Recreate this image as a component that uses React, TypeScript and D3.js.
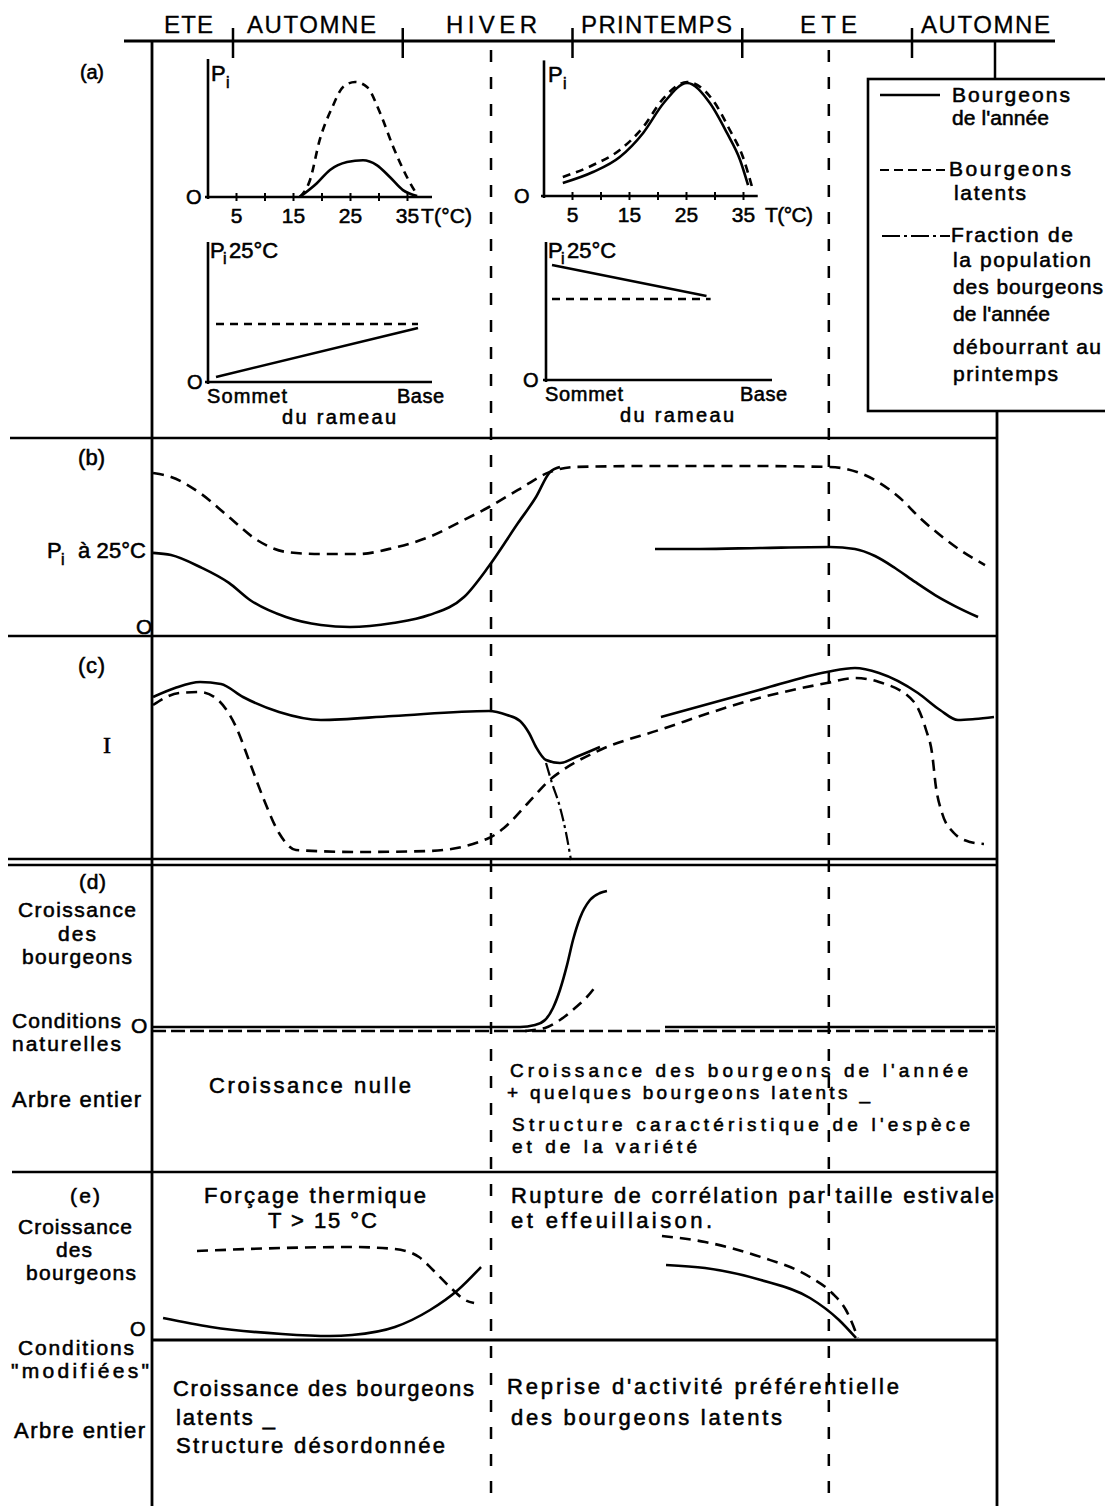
import React from "react";
import * as d3 from "d3";

type P = [number, number];

// ---------- time axis (season units: 1 = ETE|AUTOMNE, 2 = AUTOMNE|HIVER, ...)
const seasonBounds = [1, 2, 3, 4, 5];
const seasonNames = ["ETE", "AUTOMNE", "HIVER", "PRINTEMPS", "ETE", "AUTOMNE"];
const referenceDates = [2.52, 4.51];

// ---------- (a) insets : Pi vs temperature / position on shoot
const tempTicks = [5, 10, 15, 20, 25, 30, 35];
const tempTickLabels = [5, 15, 25, 35];
const a1Annee: P[] = [[16.1, 0], [19.1, 12], [21.4, 23.5], [24.4, 30.4], [27.2, 32], [29.6, 27.8], [31.9, 17.4], [34.2, 6], [36.7, 0.9]];
const a1Latent: P[] = [[16.1, 0], [17.9, 14.8], [19.6, 49.6], [21.8, 78], [23.7, 95.6], [25.8, 100], [27.9, 95.6], [30.2, 73], [32.5, 43.5], [34.9, 17.4], [36.7, 1.7]];
const a2Annee: P[] = [[3.3, 11.5], [8.6, 21.2], [13.3, 34.5], [17.4, 55.8], [21, 82.3], [25.1, 100], [29.1, 82.3], [32.1, 55.8], [34.4, 31.9], [35.8, 9.7]];
const a2Latent: P[] = [[3.3, 16.8], [8.6, 27.4], [13.3, 40.7], [17.4, 61], [21, 86.7], [25.1, 100.9], [29.6, 85], [32.6, 58.4], [34.9, 34.5], [36.5, 8]];
const a3Annee: P[] = [[0, 3.6], [1, 38.6]];
const a3Latent: P[] = [[0, 41.4], [1, 41.4]];
const a4Annee: P[] = [[0, 83.3], [0.75, 60.9]];
const a4Latent: P[] = [[0, 58.7], [0.77, 58.7]];

// ---------- (b) Pi at 25 °C through the year
const bLatent: P[] = [[0.529, 95.7], [0.635, 93.3], [0.806, 83.5], [0.976, 68.9], [1.141, 54.9], [1.312, 47.6], [1.518, 46.3], [1.73, 46.3], [1.943, 50], [2.155, 56.7], [2.361, 67.1], [2.508, 75], [2.679, 85.4], [2.867, 96.3], [3.015, 99.4], [3.457, 100], [4.046, 100], [4.517, 99.4], [4.694, 95.7], [4.811, 89.6], [4.929, 80.5], [5.047, 68.3], [5.165, 57.9], [5.283, 48.8], [5.43, 39.6]];
const bAnnee1: P[] = [[0.529, 47], [0.635, 45.7], [0.806, 38.4], [0.976, 28.7], [1.1, 18.3], [1.312, 7.9], [1.518, 3], [1.689, 1.8], [1.943, 4.3], [2.155, 9.1], [2.361, 20.1], [2.508, 39], [2.679, 65.2], [2.785, 81.1], [2.867, 96.3], [2.926, 99.4]];
const bAnnee2: P[] = [[3.486, 49.4], [3.751, 49.4], [4.105, 50], [4.517, 50.6], [4.664, 49.4], [4.782, 45.1], [4.9, 37.8], [5.018, 29.3], [5.136, 21.3], [5.253, 14.6], [5.389, 7.9]];

// ---------- (c) I
const cAnnee1: P[] = [[0.529, 81.5], [0.658, 86], [0.806, 89], [0.929, 88], [1.059, 81.5], [1.271, 74], [1.518, 70], [1.943, 72], [2.508, 74.5], [2.614, 72.5], [2.691, 69.5], [2.744, 63.5], [2.785, 56.5], [2.844, 50], [2.926, 48.5], [3.021, 51.5], [3.162, 56.5]];
const cAnnee2: P[] = [[3.521, 71.5], [4.099, 85], [4.499, 94], [4.664, 96], [4.806, 93.5], [5.035, 83.5], [5.165, 75], [5.271, 70], [5.371, 70.5], [5.483, 71.5]];
const cLatent: P[] = [[0.529, 77.5], [0.682, 83.5], [0.806, 84], [0.912, 80], [1.018, 66.5], [1.1, 48.5], [1.183, 30], [1.271, 13.5], [1.371, 5], [1.73, 4], [2.155, 4.5], [2.508, 11], [2.596, 16], [2.738, 28.5], [2.879, 41], [2.926, 44], [3.162, 55], [3.51, 65], [4.099, 81], [4.499, 88.5], [4.664, 91], [4.806, 89], [5.012, 79], [5.083, 65], [5.118, 53.5], [5.141, 36.5], [5.177, 23.5], [5.247, 13.5], [5.342, 9], [5.424, 8]];
const cFraction: P[] = [[2.844, 48.5], [2.879, 38.5], [2.926, 26.5], [2.962, 13.5], [2.991, 0]];

// ---------- (d) growth, natural conditions
const dAnnee: P[] = [[0.523, 0], [2.691, 0], [2.779, 1.5], [2.838, 5.1], [2.885, 13.9], [2.926, 27], [2.968, 45.3], [3.003, 63.5], [3.044, 79.6], [3.103, 92.7], [3.162, 97.8], [3.203, 99.3]];
const dAnneeLate: P[] = [[3.545, 0], [5.489, 0]];
const dLatentFlat: P[] = [[0.523, -2.9], [5.489, -2.9]];
const dLatentRise: P[] = [[2.72, -2.9], [2.838, -0.7], [2.926, 5.1], [3.015, 13.9], [3.085, 21.9], [3.138, 29.9]];

// ---------- (e) growth, modified conditions
const eLatent1: P[] = [[0.788, 89], [1.289, 92], [1.701, 93], [1.954, 91], [2.096, 83], [2.178, 70], [2.284, 52], [2.367, 40], [2.42, 37]];
const eAnnee1: P[] = [[0.588, 22], [0.87, 13], [1.289, 6], [1.571, 4], [1.701, 5], [1.954, 13], [2.161, 30], [2.325, 50], [2.461, 73]];
const eLatent2: P[] = [[3.527, 104], [3.781, 98], [4.11, 83], [4.399, 63], [4.529, 47], [4.611, 30], [4.682, 2]];
const eAnnee2: P[] = [[3.551, 75], [3.781, 72], [4.11, 60], [4.399, 42], [4.57, 20], [4.67, 2]];

// ---------- scales
const xT = d3.scaleLinear().domain([1, 5]).range([233, 912]);
const yB = d3.scaleLinear().domain([0, 100]).range([630, 466]);
const yC = d3.scaleLinear().domain([0, 100]).range([860, 660]);
const yD = d3.scaleLinear().domain([0, 100]).range([1027, 890]);
const yE = d3.scaleLinear().domain([0, 100]).range([1340, 1240]);
const a1x = d3.scaleLinear().domain([0, 39.3]).range([208, 432]);
const a1y = d3.scaleLinear().domain([0, 100]).range([197, 82]);
const a2x = d3.scaleLinear().domain([0, 39.3]).range([544, 768]);
const a2y = d3.scaleLinear().domain([0, 100]).range([196, 83]);
const a3x = d3.scaleLinear().domain([0, 1]).range([216, 418]);
const a3y = d3.scaleLinear().domain([0, 100]).range([382, 242]);
const a4x = d3.scaleLinear().domain([0, 1]).range([552, 758]);
const a4y = d3.scaleLinear().domain([0, 100]).range([380, 242]);

const FONT = "'Liberation Sans', Arial, sans-serif";
const SW = 2.6;
const DASH = "11 7";
const DASHDOT = "13 4 3 4";

type Sc = d3.ScaleLinear<number, number>;

function Curve({ data, xs, ys, dash, w = SW, linear = false }: { data: P[]; xs: Sc; ys: Sc; dash?: string; w?: number; linear?: boolean }) {
  const gen = d3
    .line<P>()
    .x((d) => xs(d[0]))
    .y((d) => ys(d[1]))
    .curve(linear ? d3.curveLinear : d3.curveMonotoneX);
  return <path d={gen(data) || ""} fill="none" stroke="#000" strokeWidth={w} strokeDasharray={dash} strokeLinecap="butt" />;
}

function Tx({ x, y, children, size = 22, len, anchor = "start", family = FONT, sw = 0.55 }: { x: number; y: number; children: React.ReactNode; size?: number; len?: number; anchor?: string; family?: string; sw?: number }) {
  return (
    <text
      x={x}
      y={y}
      fontSize={size}
      fontFamily={family}
      textAnchor={anchor as any}
      textLength={len}
      lengthAdjust="spacing"
      fill="#000"
      stroke="#000"
      strokeWidth={sw}
    >
      {children}
    </text>
  );
}

function Ln({ x1, y1, x2, y2, w = SW, dash }: { x1: number; y1: number; x2: number; y2: number; w?: number; dash?: string }) {
  return <line x1={x1} y1={y1} x2={x2} y2={y2} stroke="#000" strokeWidth={w} strokeDasharray={dash} />;
}

function TempInset({ xs, ys, annee, latent, zeroX, piX, tLabelX, tLabelLen, axisEnd }: { xs: Sc; ys: Sc; annee: P[]; latent: P[]; zeroX: number; piX: number; tLabelX: number; tLabelLen: number; axisEnd: number }) {
  const y0 = ys(0);
  return (
    <g>
      <Ln x1={xs(0)} y1={ys(120)} x2={xs(0)} y2={y0 + 2} />
      <Ln x1={xs(0) - 3} y1={y0} x2={xs(axisEnd)} y2={y0} />
      {tempTicks.map((t) => (
        <Ln key={t} x1={xs(t)} y1={y0 - 4} x2={xs(t)} y2={y0 + 4} w={2} />
      ))}
      {tempTickLabels.map((t) => (
        <Tx key={t} x={xs(t)} y={y0 + 26} size={21} anchor="middle">
          {t}
        </Tx>
      ))}
      <Tx x={tLabelX} y={y0 + 26} size={21} len={tLabelLen}>
        T(°C)
      </Tx>
      <Tx x={zeroX} y={y0 + 7} size={20}>
        O
      </Tx>
      <Tx x={piX} y={ys(120) + 22} size={22}>
        P
      </Tx>
      <Tx x={piX + 15} y={ys(120) + 29} size={16}>
        i
      </Tx>
      <Curve data={latent} xs={xs} ys={ys} dash="8 6" />
      <Curve data={annee} xs={xs} ys={ys} />
    </g>
  );
}

function PosInset({ xs, ys, annee, latent, axisX, axisEnd, zeroX, sommetLen, baseX, rameauX }: { xs: Sc; ys: Sc; annee: P[]; latent: P[]; axisX: number; axisEnd: number; zeroX: number; sommetLen: number; baseX: number; rameauX: number }) {
  const y0 = ys(0);
  return (
    <g>
      <Ln x1={axisX} y1={ys(100)} x2={axisX} y2={y0 + 2} />
      <Ln x1={axisX - 3} y1={y0} x2={axisEnd} y2={y0} />
      <Tx x={axisX + 2} y={ys(100) + 16} size={22}>
        P
      </Tx>
      <Tx x={axisX + 15} y={ys(100) + 22} size={16}>
        i
      </Tx>
      <Tx x={axisX + 21} y={ys(100) + 16} size={22}>
        25°C
      </Tx>
      <Tx x={zeroX} y={y0 + 7} size={20}>
        O
      </Tx>
      <Tx x={axisX - 1} y={y0 + 21} size={20} len={sommetLen}>
        Sommet
      </Tx>
      <Tx x={baseX} y={y0 + 21} size={20} len={47}>
        Base
      </Tx>
      <Tx x={rameauX} y={y0 + 42} size={20} len={114}>
        du rameau
      </Tx>
      <Curve data={latent} xs={xs} ys={ys} dash="8 6" linear />
      <Curve data={annee} xs={xs} ys={ys} linear />
    </g>
  );
}

export default function App() {
  const headerStarts = [164, 247, 446, 581, 800, 921];
  const headerLens = [49, 129, 91, 151, 57, 129];
  return (
    <svg width={1105} height={1506} style={{ position: "absolute", left: 0, top: 0, background: "#fff" }}>
      <rect x={0} y={0} width={1105} height={1506} fill="#fff" />

      {/* season header */}
      {seasonNames.map((s, i) => (
        <Tx key={i} x={headerStarts[i]} y={33} size={24} len={headerLens[i]} sw={0.3}>
          {s}
        </Tx>
      ))}
      <Ln x1={124} y1={41} x2={1055} y2={41} w={2.8} />
      {seasonBounds.map((b) => (
        <Ln key={b} x1={xT(b)} y1={28} x2={xT(b)} y2={58} w={2.5} />
      ))}
      <Ln x1={995} y1={41} x2={995} y2={79} w={2.5} />

      {/* main frame */}
      <Ln x1={152} y1={41} x2={152} y2={1506} w={2.8} />
      <Ln x1={997} y1={411} x2={997} y2={1506} w={2.8} />
      <Ln x1={10} y1={438} x2={997} y2={438} w={2.6} />
      <Ln x1={8} y1={636} x2={997} y2={636} w={2.6} />
      <Ln x1={8} y1={859} x2={997} y2={859} w={2.4} />
      <Ln x1={8} y1={865} x2={997} y2={865} w={2.4} />
      <Ln x1={12} y1={1172} x2={997} y2={1172} w={2.6} />
      <Ln x1={152} y1={1340} x2={997} y2={1340} w={3} />

      {/* reference dates */}
      {referenceDates.map((t) => (
        <Ln key={t} x1={xT(t)} y1={50} x2={xT(t)} y2={1506} w={2.5} dash="12 15" />
      ))}

      {/* (a) */}
      <Tx x={80} y={79} size={20} len={24}>
        (a)
      </Tx>
      <TempInset xs={a1x} ys={a1y} annee={a1Annee} latent={a1Latent} zeroX={186} piX={211} tLabelX={421} tLabelLen={51} axisEnd={39.3} />
      <TempInset xs={a2x} ys={a2y} annee={a2Annee} latent={a2Latent} zeroX={514} piX={548} tLabelX={765} tLabelLen={48} axisEnd={37.5} />
      <PosInset xs={a3x} ys={a3y} annee={a3Annee} latent={a3Latent} axisX={208} axisEnd={432} zeroX={187} sommetLen={80} baseX={397} rameauX={282} />
      <PosInset xs={a4x} ys={a4y} annee={a4Annee} latent={a4Latent} axisX={546} axisEnd={772} zeroX={523} sommetLen={78} baseX={740} rameauX={620} />

      {/* legend */}
      <rect x={868} y={79} width={260} height={332} fill="none" stroke="#000" strokeWidth={2.6} />
      <Ln x1={880} y1={95} x2={940} y2={95} w={2.4} />
      <Ln x1={880} y1={170} x2={948} y2={170} w={2.2} dash="9 5" />
      <Ln x1={882} y1={236} x2={950} y2={236} w={2.2} dash="18 4 3 4" />
      <Tx x={952} y={102} size={21} len={118}>Bourgeons</Tx>
      <Tx x={952} y={125} size={21} len={97}>de l'année</Tx>
      <Tx x={949} y={176} size={21} len={122}>Bourgeons</Tx>
      <Tx x={954} y={200} size={21} len={72}>latents</Tx>
      <Tx x={951} y={242} size={21} len={122}>Fraction de</Tx>
      <Tx x={953} y={267} size={21} len={138}>la population</Tx>
      <Tx x={953} y={294} size={21} len={150}>des bourgeons</Tx>
      <Tx x={953} y={321} size={21} len={97}>de l'année</Tx>
      <Tx x={953} y={354} size={21} len={148}>débourrant au</Tx>
      <Tx x={953} y={381} size={21} len={105}>printemps</Tx>

      {/* (b) */}
      <Tx x={78} y={465} len={27}>(b)</Tx>
      <Tx x={47} y={558} size={22}>P</Tx>
      <Tx x={61} y={565} size={16}>i</Tx>
      <Tx x={78} y={558} len={68}>à 25°C</Tx>
      <Tx x={136} y={634} size={21}>O</Tx>
      <Curve data={bLatent} xs={xT} ys={yB} dash={DASH} />
      <Curve data={bAnnee1} xs={xT} ys={yB} />
      <Curve data={bAnnee2} xs={xT} ys={yB} />

      {/* (c) */}
      <Tx x={78} y={673} len={27}>(c)</Tx>
      <Tx x={103} y={753} size={24} family="'Liberation Serif', 'DejaVu Serif', serif">I</Tx>
      <Curve data={cLatent} xs={xT} ys={yC} dash={DASH} />
      <Curve data={cAnnee1} xs={xT} ys={yC} />
      <Curve data={cAnnee2} xs={xT} ys={yC} />
      <Curve data={cFraction} xs={xT} ys={yC} dash={DASHDOT} w={2.2} />

      {/* (d) */}
      <Tx x={79} y={889} size={21} len={27}>(d)</Tx>
      <Tx x={77} y={917} size={21} anchor="middle" len={118}>Croissance</Tx>
      <Tx x={77} y={941} size={21} anchor="middle" len={38}>des</Tx>
      <Tx x={77} y={964} size={21} anchor="middle" len={110}>bourgeons</Tx>
      <Tx x={12} y={1028} size={21} len={109}>Conditions</Tx>
      <Tx x={131} y={1033} size={21}>O</Tx>
      <Tx x={12} y={1051} size={21} len={109}>naturelles</Tx>
      <Tx x={12} y={1107} size={22} len={129}>Arbre entier</Tx>
      <Tx x={209} y={1093} size={22} len={202}>Croissance nulle</Tx>
      <Tx x={510} y={1077} size={19} len={458}>Croissance des bourgeons de l'année</Tx>
      <Tx x={507} y={1099} size={19} len={363}>+ quelques bourgeons latents _</Tx>
      <Tx x={512} y={1131} size={19} len={458}>Structure caractéristique de l'espèce</Tx>
      <Tx x={512} y={1153} size={19} len={185}>et de la variété</Tx>
      <Curve data={dLatentFlat} xs={xT} ys={yD} dash="14 5" linear />
      <Curve data={dLatentRise} xs={xT} ys={yD} dash={DASH} />
      <Curve data={dAnnee} xs={xT} ys={yD} />
      <Curve data={dAnneeLate} xs={xT} ys={yD} linear />

      {/* (e) */}
      <Tx x={70} y={1203} size={21} len={30}>(e)</Tx>
      <Tx x={18} y={1234} size={21} len={114}>Croissance</Tx>
      <Tx x={56} y={1257} size={21} len={36}>des</Tx>
      <Tx x={26} y={1280} size={21} len={110}>bourgeons</Tx>
      <Tx x={130} y={1336} size={20}>O</Tx>
      <Tx x={18} y={1355} size={21} len={116}>Conditions</Tx>
      <Tx x={11} y={1378} size={21} len={138}>"modifiées"</Tx>
      <Tx x={14} y={1438} size={22} len={131}>Arbre entier</Tx>
      <Tx x={204} y={1203} len={222}>Forçage thermique</Tx>
      <Tx x={268} y={1228} len={109}>T &gt; 15 °C</Tx>
      <Tx x={511} y={1203} len={483}>Rupture de corrélation par taille estivale</Tx>
      <Tx x={511} y={1228} len={201}>et effeuillaison.</Tx>
      <Tx x={173} y={1396} len={301}>Croissance des bourgeons</Tx>
      <Tx x={176} y={1425} len={99}>latents _</Tx>
      <Tx x={176} y={1453} len={269}>Structure désordonnée</Tx>
      <Tx x={507} y={1394} len={392}>Reprise d'activité préférentielle</Tx>
      <Tx x={511} y={1425} len={271}>des bourgeons latents</Tx>
      <Curve data={eLatent1} xs={xT} ys={yE} dash={DASH} />
      <Curve data={eAnnee1} xs={xT} ys={yE} />
      <Curve data={eLatent2} xs={xT} ys={yE} dash={DASH} />
      <Curve data={eAnnee2} xs={xT} ys={yE} />
    </svg>
  );
}
